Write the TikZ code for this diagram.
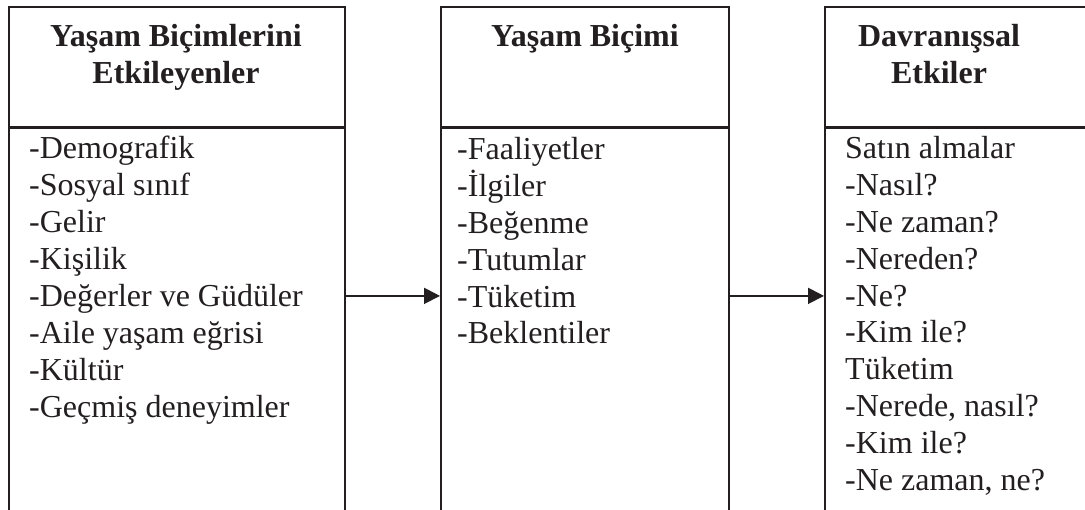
\documentclass[tikz,border=0pt]{standalone}
\usepackage{fontspec}
\setmainfont{Liberation Serif}
\usepackage{xcolor}
\usetikzlibrary{arrows.meta,positioning}
\definecolor{ink}{RGB}{35,31,32}

\begin{document}
\begin{tikzpicture}[
  x=1pt, y=-1pt,
  color=ink,
  cell/.style={draw=ink, line width=1.6pt, anchor=north west, inner sep=0pt, minimum width=#1},
  headtxt/.style={anchor=north, inner sep=0pt, align=center, font=\fontsize{32}{37}\selectfont\bfseries},
  listtxt/.style={anchor=north west, inner sep=0pt, align=left, font=\fontsize{32}{36.9}\selectfont},
  flow/.style={draw=ink, line width=1.8pt, -{Triangle[length=16pt, width=16pt]}}]

  \useasboundingbox (0,0) rectangle (1085,510);
  \clip (0,0) rectangle (1085,510);

  % boxes
  \node[cell=336pt, minimum height=120pt] (infhead) at (8,6) {};
  \node[cell=336pt, minimum height=383pt] (infbody) at (infhead.south west) {};
  \node[cell=288pt, minimum height=120pt] (stylehead) at (440,6) {};
  \node[cell=288pt, minimum height=383pt] (stylebody) at (stylehead.south west) {};
  \node[cell=300pt, minimum height=120pt] (acthead) at (824,6) {};
  \node[cell=300pt, minimum height=383pt] (actbody) at (acthead.south west) {};

  % headings
  \node[headtxt] (infttl) at (176,24) {Yaşam Biçimlerini\\Etkileyenler};
  \node[headtxt] (stylettl) at (585,24) {Yaşam Biçimi};
  \node[headtxt] (actttl) at (939,24) {Davranışsal\\Etkiler};

  % lists
  \node[listtxt] (inflist) at (29,136) {-Demografik\\-Sosyal sınıf\\-Gelir\\-Kişilik\\-Değerler ve Güdüler\\-Aile yaşam eğrisi\\-Kültür\\-Geçmiş deneyimler};
  \node[listtxt] (stylelist) at (457,137) {-Faaliyetler\\-İlgiler\\-Beğenme\\-Tutumlar\\-Tüketim\\-Beklentiler};
  \node[listtxt] (actlist) at (845,136) {Satın almalar\\-Nasıl?\\-Ne zaman?\\-Nereden?\\-Ne?\\-Kim ile?\\Tüketim\\-Nerede, nasıl?\\-Kim ile?\\-Ne zaman, ne?};

  % arrows
  \draw[flow] ([yshift=24pt]infbody.east) -- ([yshift=24pt]stylebody.west);
  \draw[flow] ([yshift=24pt]stylebody.east) -- ([yshift=24pt]actbody.west);
\end{tikzpicture}
\end{document}
